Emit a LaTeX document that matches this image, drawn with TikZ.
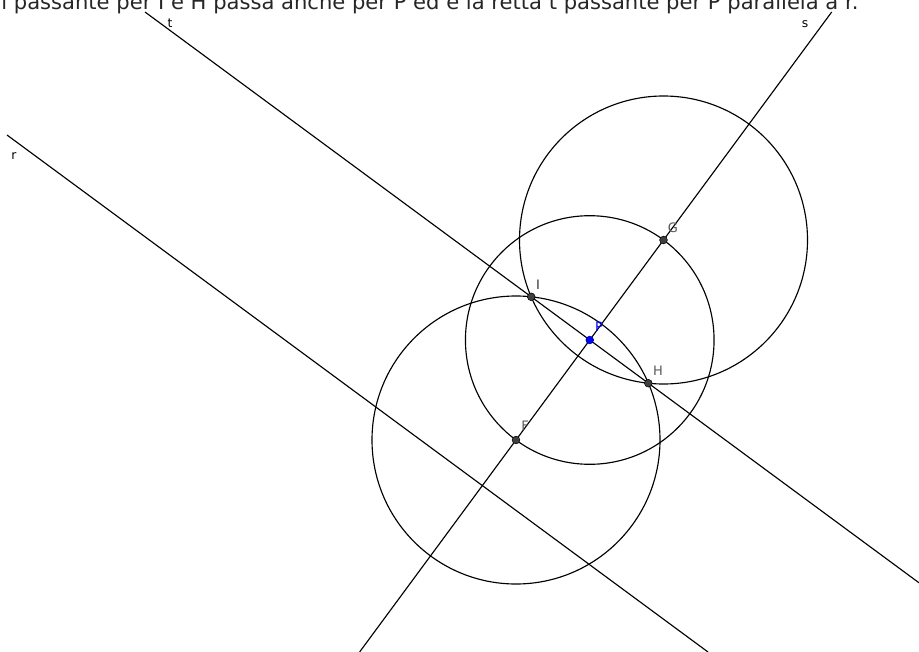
\documentclass[tikz,border=0pt]{standalone}
\usepackage{fontspec}
\setmainfont{DejaVu Sans}
\usetikzlibrary{positioning, calc}

\definecolor{ptgray}{HTML}{404040}
\definecolor{lblgray}{HTML}{5A5A5A}
\definecolor{ptblue}{HTML}{0000FF}

\tikzset{
    geo/.style={black, line width=0.65pt},
    pt/.style={circle, fill=ptgray, draw=black, line width=0.3pt, inner sep=0pt, minimum size=4.4pt},
    ptP/.style={pt, fill=ptblue, draw=blue!60!black},
    lbl/.style={font=\fontsize{7.4pt}{9pt}\selectfont, inner sep=0pt, text=lblgray},
    linelbl/.style={font=\fontsize{7pt}{8pt}\selectfont, inner sep=0pt}
}

\begin{document}
\begin{tikzpicture}[x=0.02cm, y=-0.02cm]
    \useasboundingbox (0,0) rectangle (919,652);
    \clip (0,0) rectangle (919,652);

    % caption (cut off at the top)
    \node[anchor=base west, inner sep=0pt, font=\fontsize{12pt}{14pt}\selectfont, text=black!85]
        (cap) at (1,9.5) {l passante per I e H passa anche per P ed è la retta t passante per P parallela a r.};

    % points
    \coordinate (F) at (516,440);
    \coordinate (G) at (663.5,240);
    \coordinate (P) at (589.75,340);
    \coordinate (I) at (531.2,296.8);
    \coordinate (H) at (648.3,383.2);

    % line ends
    \coordinate (tTop) at (145,12);
    \coordinate (tEnd) at (919,582.8);
    \coordinate (sTop) at (831.7,12);
    \coordinate (sEnd) at (359.6,652);
    \coordinate (rTop) at (7,135);
    \coordinate (rEnd) at (708,652);

    % lines
    \draw[geo] (tTop) -- (tEnd);
    \draw[geo] (sTop) -- (sEnd);
    \draw[geo] (rTop) -- (rEnd);

    % circles
    \draw[geo] (F) circle (144);
    \draw[geo] (G) circle (144);
    \draw[geo] (P) circle (124.3);

    % points on top
    \node[pt] (nF) at (F) {};
    \node[pt] (nG) at (G) {};
    \node[pt] (nI) at (I) {};
    \node[pt] (nH) at (H) {};
    \node[ptP] (nP) at (P) {};

    % labels
    \node[lbl] at (525,426) {F};
    \node[lbl] at (673,228) {G};
    \node[lbl, text=black!80] at (538,285) {I};
    \node[lbl] at (658,371) {H};
    \node[lbl, text=ptblue] at (599,327) {P};
    \node[linelbl] at (170,23) {t};
    \node[linelbl] at (805,24) {s};
    \node[linelbl] at (14,156) {r};
\end{tikzpicture}
\end{document}
